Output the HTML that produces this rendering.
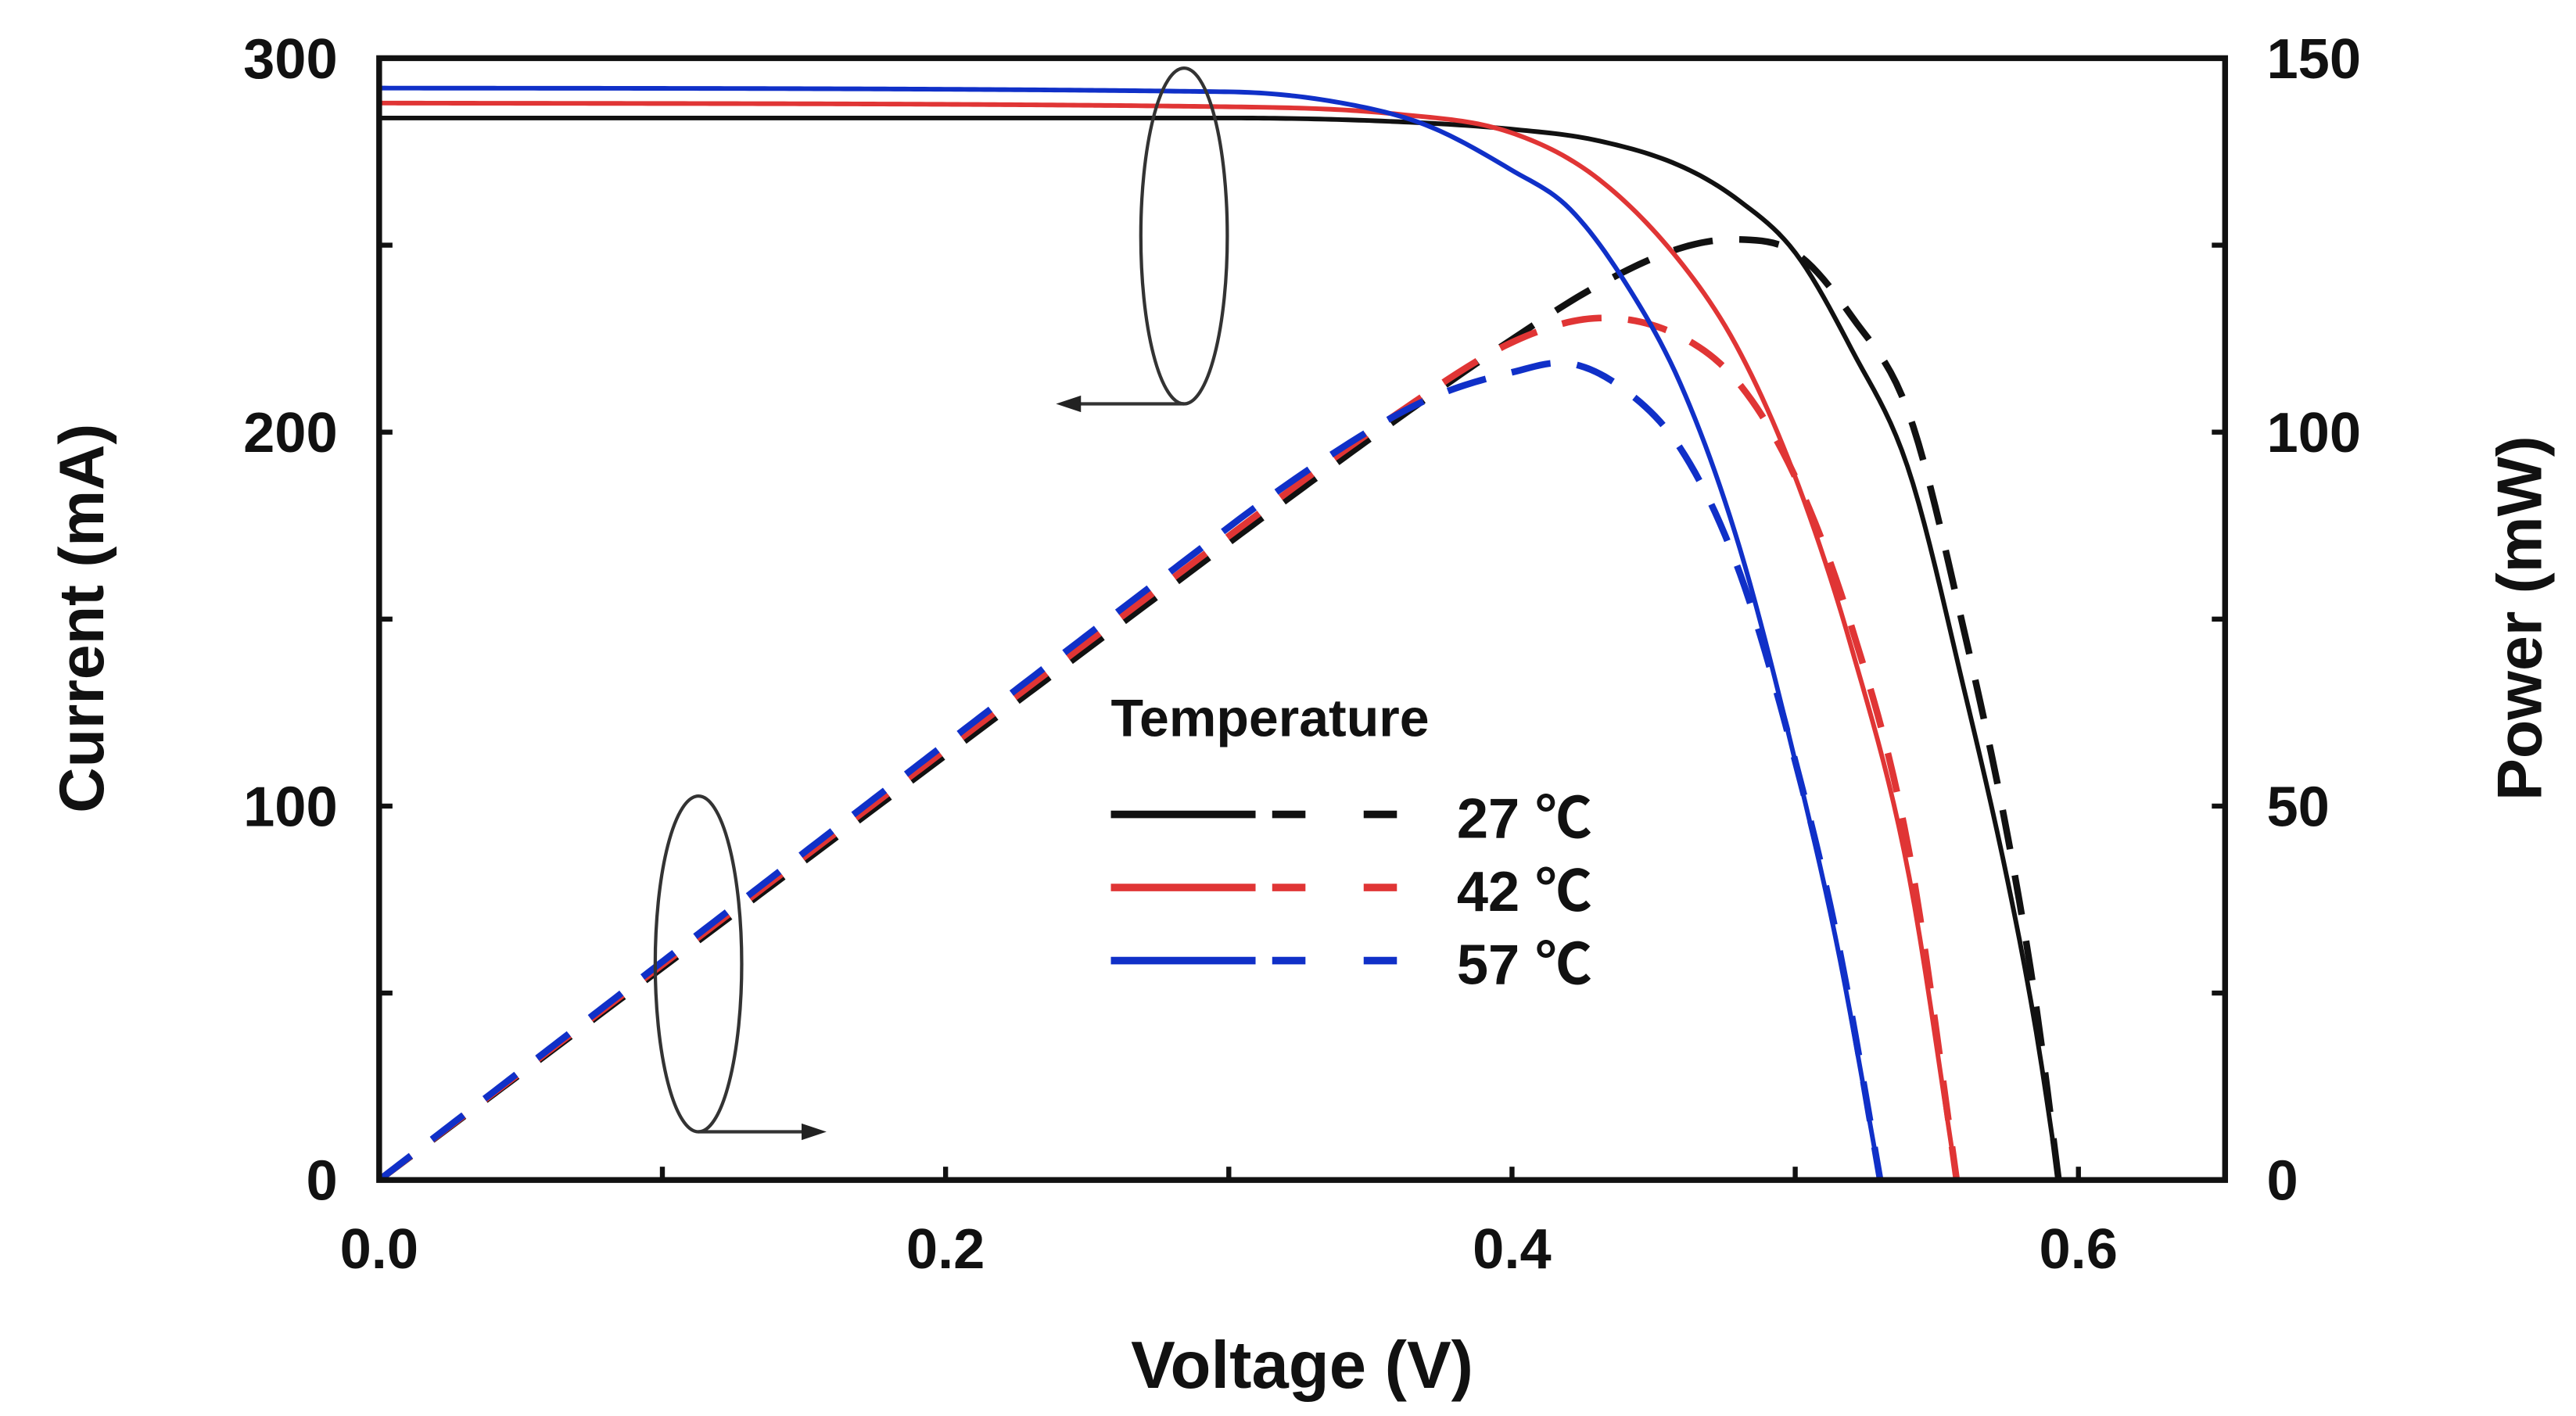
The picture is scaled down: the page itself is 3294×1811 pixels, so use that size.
<!DOCTYPE html>
<html><head><meta charset="utf-8"><style>
html,body{margin:0;padding:0;background:#fff;}
svg{display:block;}
text{font-family:"Liberation Sans","Noto Sans CJK SC",sans-serif;font-weight:bold;fill:#111;}
</style></head><body>
<svg id="chart" width="3294" height="1811" viewBox="0 0 1549 852" preserveAspectRatio="none" xmlns="http://www.w3.org/2000/svg">
<rect width="1549" height="852" fill="#fff"/>
<g id="marks"></g>
<g id="axes"></g>
</svg>
<script>
const voltage27 = [0,0.3,0.36,0.40,0.43,0.46,0.48,0.50,0.52,0.54,0.56,0.575,0.585,0.593];
const current27 = [284,284,283,281,278,271,262,248,222,190,130,80,40,0];
const voltage42 = [0,0.3,0.36,0.40,0.43,0.46,0.48,0.50,0.52,0.54,0.557];
const current42 = [288,287,285,280,268,245,222,188,142,82,0];
const voltage57 = [0,0.3,0.34,0.37,0.40,0.42,0.44,0.46,0.48,0.50,0.515,0.53];
const current57 = [292,291,288,282,270,260,240,212,170,112,62,0];
const xTicks = [0.0,0.2,0.4,0.6];
const xTickLabels = ["0.0","0.2","0.4","0.6"];
const yTicks = [0,100,200,300];
const y2Ticks = [0,50,100,150];
const legendLabels = ["27 ℃","42 ℃","57 ℃"];
const colors = ["#111","#e03535","#1030c8"];

const NS="http://www.w3.org/2000/svg";
const L=228,R=1338,T=35,B=710;
const xs=v=>L+v*1703;
const ys=i=>B-(B-T)*i/300;
const ps=p=>B-(B-T)*p/150;
function mk(tag,attrs,parent){const e=document.createElementNS(NS,tag);for(const k in attrs)e.setAttribute(k,attrs[k]);parent.appendChild(e);return e;}
const marks=document.getElementById('marks'), axes=document.getElementById('axes');

// monotone cubic interpolation (Fritsch-Carlson)
function monotone(X,Y){
  const n=X.length,d=[],m=new Array(n);
  for(let i=0;i<n-1;i++)d.push((Y[i+1]-Y[i])/(X[i+1]-X[i]));
  m[0]=d[0];m[n-1]=d[n-2];
  for(let i=1;i<n-1;i++){m[i]=(d[i-1]*d[i]<=0)?0:(d[i-1]+d[i])/2;}
  for(let i=0;i<n-1;i++){
    if(d[i]===0){m[i]=0;m[i+1]=0;continue;}
    const a=m[i]/d[i],b=m[i+1]/d[i],s=a*a+b*b;
    if(s>9){const t=3/Math.sqrt(s);m[i]=t*a*d[i];m[i+1]=t*b*d[i];}
  }
  return x=>{
    let i=0;while(i<n-2&&x>X[i+1])i++;
    const h=X[i+1]-X[i],t=(x-X[i])/h,t2=t*t,t3=t2*t;
    return (2*t3-3*t2+1)*Y[i]+(t3-2*t2+t)*h*m[i]+(-2*t3+3*t2)*Y[i+1]+(t3-t2)*h*m[i+1];
  };
}
const series=[[voltage27,current27],[voltage42,current42],[voltage57,current57]];
const names=["27c","42c","57c"];
const sampled=series.map(s=>{
  const f=monotone(s[0],s[1]);const vmax=s[0][s[0].length-1];const out=[];
  for(let k=0;k<=300;k++){const v=vmax*k/300;out.push([v,Math.max(0,f(v))]);}
  return out;
});
sampled.forEach((pts,k)=>{
  const d=pts.map((p,i)=>(i?"L":"M")+xs(p[0]).toFixed(2)+","+ps(p[0]*p[1]).toFixed(2)).join("");
  const p=mk('path',{d:d,fill:'none',stroke:colors[k],'stroke-width':4,'stroke-dasharray':'24 16'},marks);
  
  
});
sampled.forEach((pts,k)=>{
  const d=pts.map((p,i)=>(i?"L":"M")+xs(p[0]).toFixed(2)+","+ys(p[1]).toFixed(2)).join("");
  const p=mk('path',{d:d,fill:'none',stroke:colors[k],'stroke-width':2.8},marks);
  
  
});

const fr=mk('rect',{x:L,y:T,width:R-L,height:B-T,fill:'none',stroke:'#111','stroke-width':3.5},axes);


for(let v=0;v<=0.65;v+=0.1){mk('line',{x1:xs(v),x2:xs(v),y1:B,y2:B-8,stroke:'#111','stroke-width':3},axes);}
xTicks.forEach((v,i)=>{const t=mk('text',{x:xs(v),y:B+53,'text-anchor':'middle','font-size':34},axes);t.textContent=xTickLabels[i];

});
for(let v=0;v<=300;v+=50){mk('line',{x1:L,x2:L+8,y1:ys(v),y2:ys(v),stroke:'#111','stroke-width':3},axes);mk('line',{x1:R,x2:R-8,y1:ys(v),y2:ys(v),stroke:'#111','stroke-width':3},axes);}
yTicks.forEach(v=>{const t=mk('text',{x:203,y:ys(v)+12,'text-anchor':'end','font-size':34},axes);t.textContent=v;

});
y2Ticks.forEach(v=>{const t=mk('text',{x:1363,y:ps(v)+12,'text-anchor':'start','font-size':34},axes);t.textContent=v;

});
let t;
t=mk('text',{x:783,y:835,'text-anchor':'middle','font-size':40},axes);t.textContent="Voltage (V)";


t=mk('text',{x:0,y:0,'text-anchor':'middle','font-size':38,transform:'translate(62,372) rotate(-90)'},axes);t.textContent="Current (mA)";


t=mk('text',{x:0,y:0,'text-anchor':'middle','font-size':38,transform:'translate(1528,372) rotate(-90)'},axes);t.textContent="Power (mW)";


t=mk('text',{x:668,y:443,'font-size':32},axes);t.textContent="Temperature";


legendLabels.forEach((lab,k)=>{
  const y=490+k*44;
  const g=mk('g',{},axes);
  
  
  mk('line',{x1:668,x2:755,y1:y,y2:y,stroke:colors[k],'stroke-width':4.5},g);
  mk('line',{x1:765,x2:785,y1:y,y2:y,stroke:colors[k],'stroke-width':4.5},g);
  mk('line',{x1:820,x2:840,y1:y,y2:y,stroke:colors[k],'stroke-width':4.5},g);
  const tt=mk('text',{x:876,y:y+14,'font-size':34},g);tt.textContent=lab;
});
mk('ellipse',{cx:712,cy:142,rx:26,ry:101,fill:'none',stroke:'#333','stroke-width':2},axes);
mk('line',{x1:712,y1:243,x2:645,y2:243,stroke:'#333','stroke-width':2},axes);
mk('path',{d:'M635,243 L650,238 L650,248 Z',fill:'#222'},axes);
mk('ellipse',{cx:420,cy:580,rx:26,ry:101,fill:'none',stroke:'#333','stroke-width':2},axes);
mk('line',{x1:420,y1:681,x2:485,y2:681,stroke:'#333','stroke-width':2},axes);
mk('path',{d:'M497,681 L482,676 L482,686 Z',fill:'#222'},axes);
</script>
</body></html>
